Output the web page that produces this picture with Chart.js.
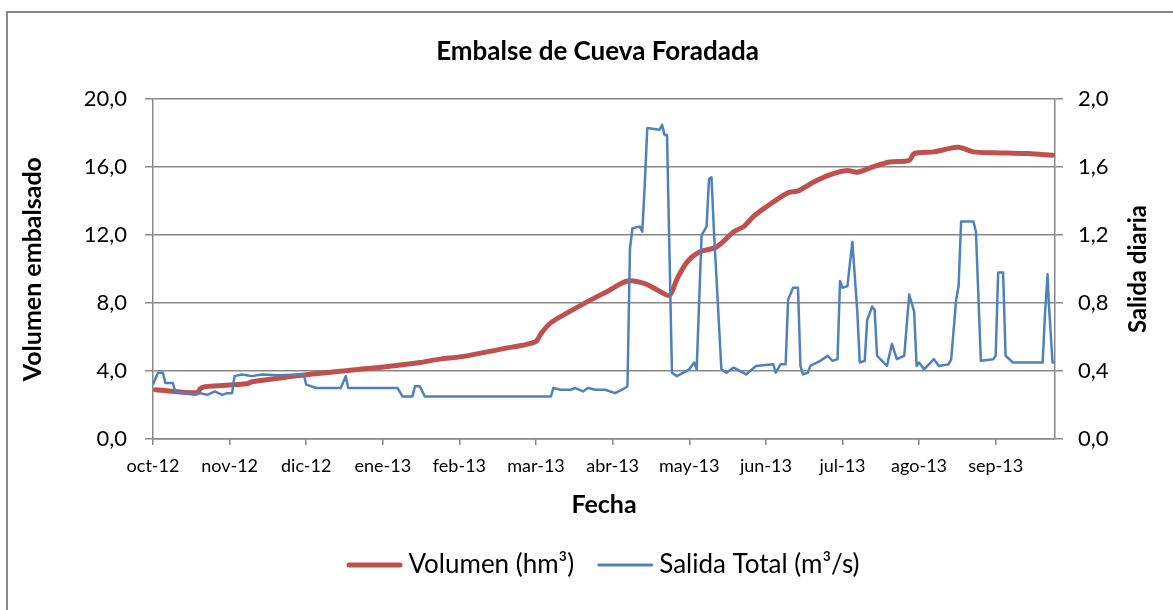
<!DOCTYPE html>
<html>
<head>
<meta charset="utf-8">
<script src="https://cdn.jsdelivr.net/npm/chart.js@4.4.1/dist/chart.umd.min.js"></script>
<style>
  html, body { margin: 0; padding: 0; background: #fff; }
  #wrap { position: relative; width: 1173px; height: 610px; overflow: hidden; }
  #frame { position: absolute; left: 6px; top: 11px; width: 1300px; height: 700px;
           border-left: 2px solid #898989; border-top: 2px solid #898989; }
  #c { position: absolute; left: 0; top: 0; }
</style>
</head>
<body>
<div id="wrap">
  <div id="frame"></div>
  <canvas id="c" width="1173" height="610"></canvas>
</div>
<script>
"use strict";

/*global Chart*/

// month labels, one every 31 days on the category-like axis
var monthLabels = ['oct-12', 'nov-12', 'dic-12', 'ene-13', 'feb-13', 'mar-13',
    'abr-13', 'may-13', 'jun-13', 'jul-13', 'ago-13', 'sep-13'];

// Volumen (hm3), left axis
var volDays = [1, 18, 19, 21, 38, 40, 63, 94, 108, 116, 125, 143, 149, 155, 157, 161,
    168, 176, 184, 192, 199, 205, 209, 212, 216, 221, 228, 235, 239, 243, 248, 257,
    261, 267, 275, 281, 285, 291, 298, 306, 308, 316, 324, 327, 332, 340, 354, 364];
var volValues = [2.9, 2.72, 2.95, 3.08, 3.25, 3.37, 3.8, 4.25, 4.5, 4.7, 4.85, 5.35, 5.5, 5.74, 6.2, 6.85,
    7.45, 8.1, 8.7, 9.3, 9.15, 8.7, 8.45, 9.4, 10.4, 11.0, 11.3, 12.2, 12.5, 13.1, 13.65, 14.5,
    14.6, 15.1, 15.6, 15.8, 15.7, 16.0, 16.3, 16.4, 16.8, 16.9, 17.15, 17.15, 16.9, 16.85, 16.8, 16.7];

// Salida Total (m3/s), right axis
var outDays = [0, 2, 4, 5, 8, 9, 13, 17, 19, 22, 25, 28, 30, 32, 33, 36, 40, 44, 51, 59, 61,
    62, 66, 76, 78, 79, 99, 101, 105, 106, 108, 110, 161, 162, 165, 169, 171, 174, 176, 179,
    183, 187, 191, 192, 193, 194, 197, 198, 199, 200, 205, 206, 207, 208, 210, 212, 217, 219,
    220, 222, 224, 225, 226, 227, 230, 232, 235, 240, 244, 251, 252, 254, 256, 257, 259, 261,
    262, 263, 265, 266, 270, 273, 275, 277, 278, 279, 281, 283, 285, 286, 288, 289, 291, 292,
    293, 295, 297, 299, 301, 304, 306, 308, 309, 310, 312, 316, 318, 322, 323, 325, 326, 327,
    332, 333, 335, 340, 341, 342, 344, 345, 348, 360, 361, 362, 362.5, 364, 365];
var outValues = [0.32, 0.39, 0.39, 0.33, 0.33, 0.28, 0.27, 0.26, 0.27, 0.26, 0.28, 0.26, 0.27, 0.27, 0.37, 0.38, 0.37, 0.38, 0.375, 0.38, 0.38,
    0.32, 0.30, 0.30, 0.37, 0.30, 0.30, 0.25, 0.25, 0.31, 0.31, 0.25, 0.25, 0.30, 0.29, 0.29, 0.30, 0.28, 0.30, 0.29,
    0.29, 0.27, 0.30, 0.31, 1.12, 1.24, 1.25, 1.22, 1.5, 1.83, 1.82, 1.85, 1.79, 1.79, 0.39, 0.37, 0.41, 0.45,
    0.41, 1.2, 1.25, 1.53, 1.54, 1.22, 0.41, 0.39, 0.42, 0.38, 0.43, 0.44, 0.39, 0.44, 0.44, 0.82, 0.89, 0.89,
    0.43, 0.38, 0.39, 0.43, 0.46, 0.49, 0.46, 0.47, 0.93, 0.89, 0.9, 1.16, 0.75, 0.45, 0.46, 0.70, 0.78, 0.76,
    0.49, 0.46, 0.43, 0.56, 0.47, 0.49, 0.85, 0.75, 0.43, 0.45, 0.41, 0.47, 0.43, 0.44, 0.47, 0.82, 0.9, 1.28,
    1.28, 1.22, 0.46, 0.47, 0.49, 0.98, 0.98, 0.49, 0.45, 0.45, 0.75, 0.97, 0.8, 0.45, 0.45];

var gridGray = '#878787',
    fontFamily = 'Lato, "Open Sans", sans-serif';

var toPoints = function (days, values) {
    return days.map(function (d, i) {
        return {x: d, y: values[i]};
    });
};

var comma = function (v) {
    return Number(v).toFixed(1).replace('.', ',');
};

// little canvas with a line, used as the legend sample
var lineSample = function (color, width) {
    var c = document.createElement('canvas'),
        g = c.getContext('2d');
    c.width = 57;
    c.height = 10;
    g.strokeStyle = color;
    g.lineWidth = width;
    g.lineCap = 'round';
    g.beginPath();
    g.moveTo(width / 2 + 0.5, 5);
    g.lineTo(57 - width / 2 - 0.5, 5);
    g.stroke();
    return c;
};

// right axis title reads bottom-to-top in the original, so it is drawn here;
// title and legend are nudged to the right like in the original
var extras = {
    id: 'extras',
    afterLayout: function (chart) {
        chart.titleBlock.left += 22;
        chart.legend.left += 40;
    },
    afterDraw: function (chart) {
        var ctx = chart.ctx,
            area = chart.chartArea;
        ctx.save();
        ctx.translate(1138, (area.top + area.bottom) / 2);
        ctx.rotate(-Math.PI / 2);
        ctx.font = 'bold 24px ' + fontFamily;
        ctx.fillStyle = '#000';
        ctx.textAlign = 'center';
        ctx.textBaseline = 'middle';
        ctx.fillText('Salida diaria', 0, 0);
        ctx.restore();
    }
};

var chart = new Chart(document.getElementById('c').getContext('2d'), {
    type: 'line',
    data: {
        datasets: [{
            label: 'Volumen (hm³)',
            data: toPoints(volDays, volValues),
            yAxisID: 'y',
            borderColor: '#C0504D',
            backgroundColor: '#C0504D',
            borderWidth: 5,
            borderCapStyle: 'round',
            borderJoinStyle: 'round',
            pointRadius: 0,
            tension: 0.3,
            order: 1
        }, {
            label: 'Salida Total (m³/s)',
            data: toPoints(outDays, outValues),
            yAxisID: 'y2',
            borderColor: '#4F81BD',
            backgroundColor: '#4F81BD',
            borderWidth: 2.5,
            borderJoinStyle: 'round',
            pointRadius: 0,
            tension: 0,
            order: 0
        }]
    },
    options: {
        responsive: false,
        animation: false,
        events: [],
        layout: {padding: {left: 0, right: 0, top: 0, bottom: 22}},
        plugins: {
            title: {
                display: true,
                text: 'Embalse de Cueva Foradada',
                color: '#000',
                font: {family: fontFamily, size: 26, weight: 'bold'},
                padding: {top: 36, bottom: 32}
            },
            legend: {
                position: 'bottom',
                reverse: true,
                labels: {
                    color: '#000',
                    font: {family: fontFamily, size: 26},
                    usePointStyle: true,
                    pointStyleWidth: 42,
                    padding: 30,
                    generateLabels: function (ch) {
                        var items = Chart.defaults.plugins.legend.labels.generateLabels(ch);
                        items.forEach(function (it) {
                            var ds = ch.data.datasets[it.datasetIndex];
                            it.pointStyle = lineSample(ds.borderColor, ds.borderWidth === 5 ? 5 : 3);
                            it.rotation = 0;
                        });
                        return items;
                    }
                }
            },
            tooltip: {enabled: false}
        },
        scales: {
            x: {
                type: 'linear',
                min: 0,
                max: 365,
                afterBuildTicks: function (scale) {
                    scale.ticks = monthLabels.map(function (m, i) {
                        return {value: i * 31};
                    });
                },
                afterFit: function (scale) {
                    scale.height = 83;
                },
                ticks: {
                    autoSkip: false,
                    maxRotation: 0,
                    color: '#000',
                    padding: 10,
                    font: {family: fontFamily, size: 18},
                    callback: function (v, i) {
                        return monthLabels[i];
                    }
                },
                grid: {drawOnChartArea: false, color: gridGray, lineWidth: 1.5, tickLength: 6},
                border: {color: gridGray, width: 1.5},
                title: {
                    display: true,
                    text: 'Fecha',
                    color: '#000',
                    font: {family: fontFamily, size: 25, weight: 'bold'},
                    padding: {top: 0, bottom: 2}
                }
            },
            y: {
                position: 'left',
                min: 0,
                max: 20,
                afterBuildTicks: function (scale) {
                    scale.ticks = [0, 4, 8, 12, 16, 20].map(function (v) {
                        return {value: v};
                    });
                },
                afterFit: function (scale) {
                    scale.width = 153;
                },
                ticks: {
                    color: '#000',
                    padding: 18,
                    font: {family: fontFamily, size: 22},
                    callback: comma
                },
                grid: {color: gridGray, lineWidth: 1.5, tickLength: 8},
                border: {color: gridGray, width: 1.5},
                title: {
                    display: true,
                    text: 'Volumen embalsado',
                    color: '#000',
                    font: {family: fontFamily, size: 25, weight: 'bold'},
                    padding: {top: 18, bottom: 0}
                }
            },
            y2: {
                position: 'right',
                min: 0,
                max: 2,
                afterBuildTicks: function (scale) {
                    scale.ticks = [0, 0.4, 0.8, 1.2, 1.6, 2.0].map(function (v) {
                        return {value: v};
                    });
                },
                afterFit: function (scale) {
                    scale.width = 118;
                },
                ticks: {
                    color: '#000',
                    padding: 15,
                    font: {family: fontFamily, size: 22},
                    callback: comma
                },
                grid: {drawOnChartArea: false, color: gridGray, lineWidth: 1.5, tickLength: 8},
                border: {color: gridGray, width: 1.5}
            }
        }
    },
    plugins: [extras]
});
</script>
</body>
</html>
